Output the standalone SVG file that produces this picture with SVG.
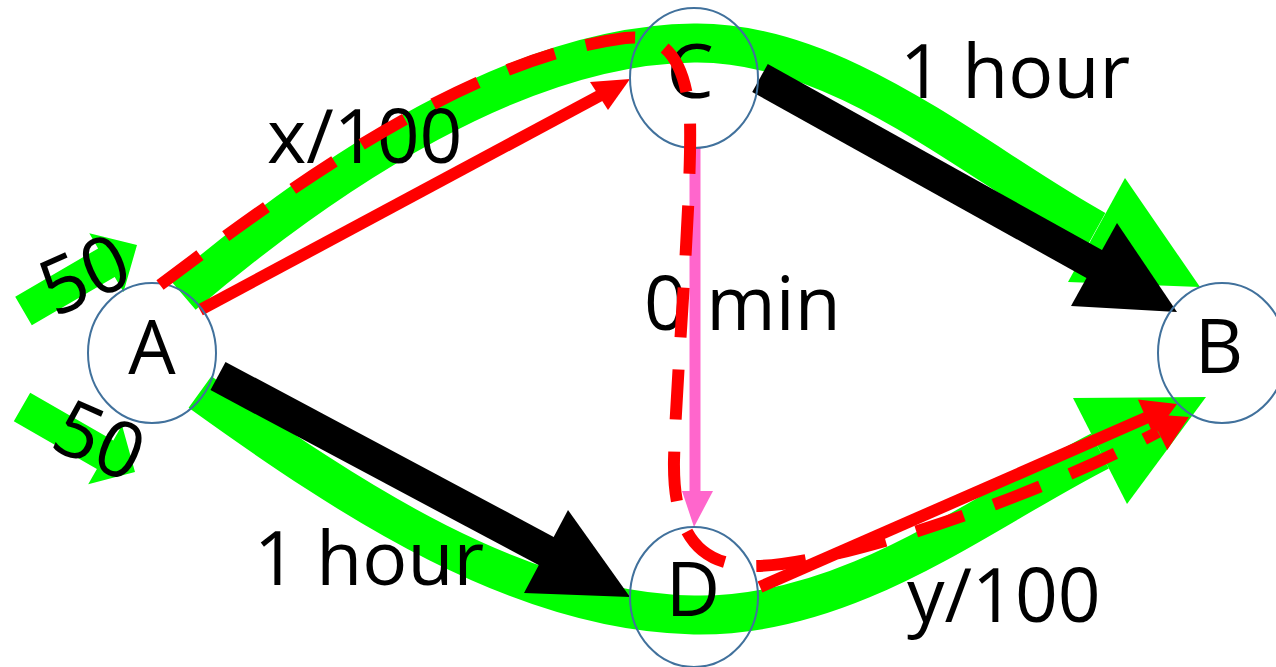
<svg xmlns="http://www.w3.org/2000/svg" width="1276" height="667" viewBox="0 0 1276 667">
<style>
.g{fill:none;stroke:#00FF00;stroke-width:39}
.gf{fill:#00FF00}
.bk{fill:none;stroke:#000;stroke-width:32}
.bf{fill:#000}
.rd{fill:none;stroke:#FF0000;stroke-width:12}
.rf{fill:#FF0000}
.pk{fill:none;stroke:#FF66CC;stroke-width:11}
.pf{fill:#FF66CC}
.node{fill:none;stroke:#41719C;stroke-width:2}
.t{font-family:"Open Sans","Noto Sans",sans-serif;font-size:75px;fill:#000}
.n{font-size:78px}
.dash{fill:none;stroke:#FF0000;stroke-width:12;stroke-dasharray:50 32}
</style>
<g id="connectors">
  <path class="g" d="M183,295 C330,170 520,45 694,43 C840,41 976,164 1096,230"/>
  <polygon class="gf" points="1125,178 1200,287 1068,282"/>
  <path class="g" d="M200,392 C350,500 520,612 694,615 C850,618 980,512 1100,451"/>
  <polygon class="gf" points="1073,398 1206,397 1127,504"/>
  <polygon class="gf" points="15.2,296.7 98.1,248.4 89.3,233.3 137,245 123.5,292.1 114.7,277 31.8,325.3"/>
  <polygon class="gf" points="30.2,392.7 113.3,440.4 122,425.2 135,472 88.2,484.2 96.9,469 13.8,421.3"/>
  <line class="bk" x1="760" y1="78" x2="1096" y2="265"/>
  <polygon class="bf" points="1117,223 1177,312 1071,306"/>
  <line class="bk" x1="218" y1="376" x2="548" y2="552"/>
  <polygon class="bf" points="568,510 630,597 524,593"/>
  <line class="rd" x1="200" y1="310" x2="601" y2="95"/>
  <polygon class="rf" points="590,82 630,79 608,110"/>
  <line class="rd" x1="760" y1="587" x2="1148" y2="417"/>
  <polygon class="rf" points="1137.9,399.4 1177,404 1153.9,436"/>
  <line class="pk" x1="695" y1="148" x2="695" y2="493"/>
  <polygon class="pf" points="682,491 713,491 694,527"/>
</g>
<g id="node-A"><ellipse class="node" cx="152" cy="353" rx="64" ry="70"/><text class="t" x="152" y="374" text-anchor="middle">A</text></g>
<g id="node-C"><ellipse class="node" cx="694" cy="78" rx="64" ry="70"/><text class="t" x="690" y="98" text-anchor="middle">C</text></g>
<g id="node-B"><ellipse class="node" cx="1222" cy="353" rx="64" ry="70"/><text class="t" x="1219" y="373" text-anchor="middle">B</text></g>
<g id="node-D"><ellipse class="node" cx="694" cy="597" rx="64" ry="70"/><text class="t" x="693" y="616" text-anchor="middle">D</text></g>
<g id="labels">
  <text class="t" x="267" y="163">x/100</text>
  <text class="t" x="900" y="98">1 hour</text>
  <text class="t" x="644" y="330">0 min</text>
  <text class="t" x="254" y="585">1 hour</text>
  <text class="t" x="907" y="622">y/100</text>
  <text class="t n" text-anchor="middle" transform="translate(84,274) rotate(-24)" x="0" y="28">50</text>
  <text class="t n" text-anchor="middle" transform="translate(100,440) rotate(24)" x="0" y="28">50</text>
</g>
<g id="dashed-route">
  <path class="dash" d="M160,285 C280,195 460,60 625,38 C665,33 686,60 690,120 C692,200 676,380 674,460 C673,520 690,560 740,565 C800,575 1010,510 1158,432"/>
  <polygon class="rf" points="1149.6,413.9 1189,417 1167.2,449.9"/>
</g>
</svg>
